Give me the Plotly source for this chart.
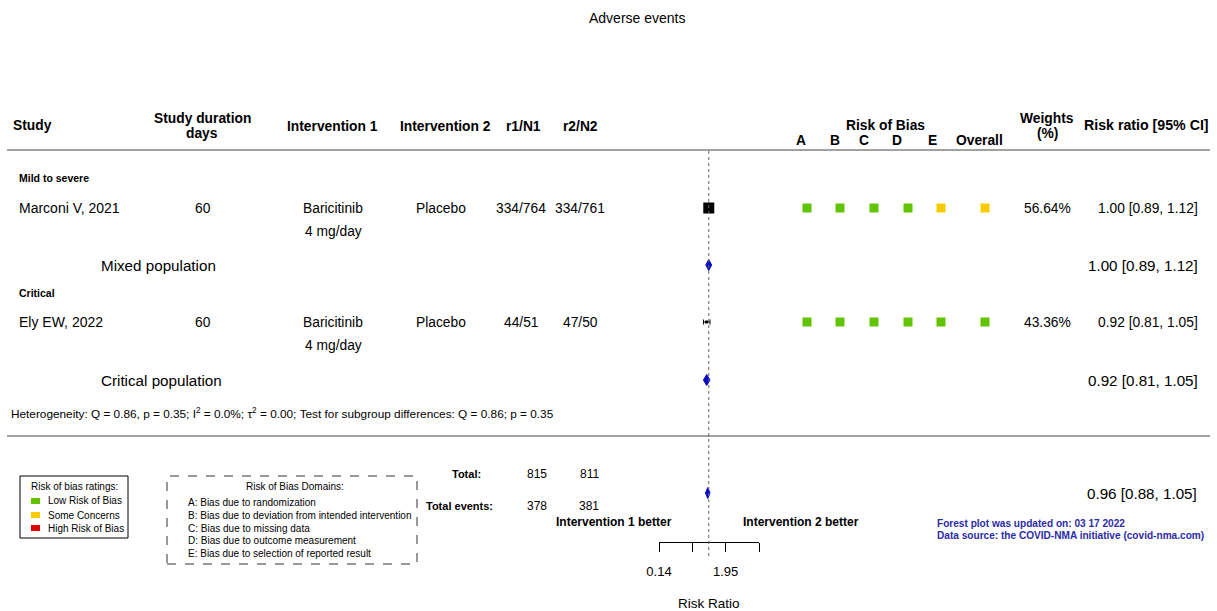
import plotly.graph_objects as go
import math

W, H = 1217, 611
FONT = "Liberation Sans, Arial, sans-serif"

# ---------------- data ----------------
title = "Adverse events"
subgroups = ["Mild to severe", "Critical"]
studies = ["Marconi V, 2021", "Ely EW, 2022"]
durations = ["60", "60"]
intervention1 = ["Baricitinib\n4 mg/day", "Baricitinib\n4 mg/day"]
intervention2 = ["Placebo", "Placebo"]
r1 = [334, 44]
n1 = [764, 51]
r2 = [334, 47]
n2 = [761, 50]
rr = [1.00, 0.92]
rr_lo = [0.89, 0.81]
rr_hi = [1.12, 1.05]
weights = [56.64, 43.36]
rob = [["L", "L", "L", "L", "S", "S"],
       ["L", "L", "L", "L", "L", "L"]]
rob_domains = ["A", "B", "C", "D", "E", "Overall"]

sub_names = ["Mixed population", "Critical population"]
sub_rr = [1.00, 0.92]
sub_lo = [0.89, 0.81]
sub_hi = [1.12, 1.05]

overall_rr, overall_lo, overall_hi = 0.96, 0.88, 1.05
total_n1, total_n2 = 815, 811
total_e1, total_e2 = 378, 381

hetero = ("Heterogeneity: Q = 0.86, p = 0.35; I<sup>2</sup> = 0.0%; "
          "τ<sup>2</sup> = 0.00; Test for subgroup differences: Q = 0.86; p = 0.35")

major_ticks = [0.14, 1.95]
minor_ticks = [0.52, 7.27]
axis_limits = [0.14, 7.27]

rob_ratings = ["Low Risk of Bias", "Some Concerns", "High Risk of Bias"]
rob_domain_text = ["A: Bias due to randomization",
                   "B: Bias due to deviation from intended intervention",
                   "C: Bias due to missing data",
                   "D: Bias due to outcome measurement",
                   "E: Bias due to selection of reported result"]

# ---------------- layout / style ----------------
ROB_COL = {"L": "#62c400", "S": "#f7cc00", "H": "#e00000"}
BLUE = "#0a0ac8"
NOTE_BLUE = "#2b2ba8"

sub_y = [178, 293]
study_y = [208, 322]
line2_dy = 23
summary_y = [265, 380]
overall_y = 493
rob_x = [807, 840, 874, 908, 941, 985]
axis_px = (659, 759)   # pixel span of forest axis
axis_bottom = 542

def px(x):
    return x / W

def py(y):
    return 1 - y / H

annotations = []

def txt(x, y, s, size=13, bold=False, anchor="center", color="black"):
    if bold:
        s = "<b>" + s + "</b>"
    annotations.append(dict(x=px(x), y=py(y), xref="paper", yref="paper",
                            text=s, showarrow=False, xanchor=anchor, yanchor="middle",
                            borderpad=0,
                            font=dict(family=FONT, size=size, color=color)))

fig = go.Figure()

# title
txt(637, 18, title, size=14)

# headers
HS = 13.8
txt(12, 125, "Study", HS, True, "left")
txt(202, 118, "Study duration", HS, True)
txt(202, 134, "days", HS, True)
txt(332, 126, "Intervention 1", HS, True)
txt(446, 126, "Intervention 2", HS, True)
txt(523, 126, "r1/N1", HS, True)
txt(580, 126, "r2/N2", HS, True)
txt(885, 125, "Risk of Bias", HS, True)
rob_lab_x = [801, 835, 864, 897, 932, 979]
for lx, d in zip(rob_lab_x, rob_domains):
    txt(lx, 140, d, HS, True)
txt(1047, 118, "Weights", HS, True)
txt(1047, 134, "(%)", HS, True)
txt(1210, 125, "Risk ratio [95% CI]", 14.2, True, "right")

# study rows
RS = 13.8
for i in range(len(studies)):
    y = study_y[i]
    txt(18, sub_y[i], subgroups[i], 10.5, True, "left")
    txt(18, y, studies[i], 14, False, "left")
    txt(203, y, durations[i], RS)
    parts = intervention1[i].split("\n")
    txt(333, y, parts[0], RS)
    txt(333, y + line2_dy, parts[1], RS)
    txt(441, y, intervention2[i], RS)
    txt(521, y, f"{r1[i]}/{n1[i]}", RS)
    txt(580, y, f"{r2[i]}/{n2[i]}", RS)
    txt(1047, y, f"{weights[i]:.2f}%", RS)
    txt(1199, y, f"{rr[i]:.2f} [{rr_lo[i]:.2f}, {rr_hi[i]:.2f}]", RS, False, "right")
    # summary row
    txt(100, summary_y[i], sub_names[i], 15.2, False, "left")
    txt(1199, summary_y[i], f"{sub_rr[i]:.2f} [{sub_lo[i]:.2f}, {sub_hi[i]:.2f}]", 15.2, False, "right")

txt(10, 413, hetero, 11.8, False, "left")

# totals
txt(467, 474, "Total:", 11, True)
txt(537, 474, str(total_n1), 12)
txt(589, 474, str(total_n2), 12)
txt(459, 506, "Total events:", 11, True)
txt(537, 506, str(total_e1), 12)
txt(589, 506, str(total_e2), 12)
txt(614, 522, "Intervention 1 better", 12, True)
txt(801, 522, "Intervention 2 better", 12, True)
txt(1198, 493, f"{overall_rr:.2f} [{overall_lo:.2f}, {overall_hi:.2f}]", 15.2, False, "right")
txt(709, 603, "Risk Ratio", 13.5)

txt(936, 523, "Forest plot was updated on: 03 17 2022", 10.1, True, "left", NOTE_BLUE)
txt(936, 535, "Data source: the COVID-NMA initiative (covid-nma.com)", 10.1, True, "left", NOTE_BLUE)

# legend boxes
shapes = []
shapes.append(dict(type="rect", xref="paper", yref="paper", x0=px(20), x1=px(128),
                   y0=py(538), y1=py(476), line=dict(color="black", width=1)))
txt(74, 486, "Risk of bias ratings:", 10)
leg_y = [501, 515, 528]
for yy, lab, k in zip(leg_y, rob_ratings, ["L", "S", "H"]):
    shapes.append(dict(type="rect", xref="paper", yref="paper", x0=px(31), x1=px(40),
                       y0=py(yy + 3), y1=py(yy - 3), line=dict(width=0),
                       fillcolor=ROB_COL[k]))
    txt(47, yy, lab, 10, False, "left")

shapes.append(dict(type="rect", xref="paper", yref="paper", x0=px(167), x1=px(417),
                   y0=py(564), y1=py(476), line=dict(color="#333", width=1, dash="dash")))
txt(295, 486, "Risk of Bias Domains:", 10)
for yy, lab in zip([502, 515, 528, 540, 553], rob_domain_text):
    txt(187, yy, lab, 10, False, "left")

# horizontal separators
for yy in [150, 436]:
    shapes.append(dict(type="line", xref="paper", yref="paper", x0=px(7), x1=px(1210),
                       y0=py(yy), y1=py(yy), line=dict(color="#444", width=1)))

# reference line at RR = 1
shapes.append(dict(type="line", xref="x", yref="paper", x0=1, x1=1,
                   y0=py(556), y1=py(150), line=dict(color="#666", width=1, dash="dot")))

# ---------------- forest marks (log axis) ----------------
fig.add_trace(go.Scatter(
    x=[rr[0]], y=[study_y[0]], mode="markers",
    marker=dict(symbol="square", size=11, color="black"),
    error_x=dict(type="data", symmetric=False, array=[rr_hi[0] - rr[0]],
                 arrayminus=[rr[0] - rr_lo[0]], color="black", thickness=1, width=2),
    xaxis="x", yaxis="y", showlegend=False, hoverinfo="skip"))
fig.add_trace(go.Scatter(
    x=[rr[1]], y=[study_y[1]], mode="markers",
    marker=dict(symbol="square", size=3, color="black"),
    error_x=dict(type="data", symmetric=False, array=[rr_hi[1] - rr[1]],
                 arrayminus=[rr[1] - rr_lo[1]], color="black", thickness=1, width=2.5),
    xaxis="x", yaxis="y", showlegend=False, hoverinfo="skip"))

dia_est = sub_rr + [overall_rr]
dia_lo = sub_lo + [overall_lo]
dia_hi = sub_hi + [overall_hi]
dia_y = summary_y + [overall_y]
for e, lo, hi, yy in zip(dia_est, dia_lo, dia_hi, dia_y):
    fig.add_trace(go.Scatter(
        x=[lo, e, hi, e, lo], y=[yy, yy - 5.5, yy, yy + 5.5, yy],
        mode="lines", fill="toself", fillcolor=BLUE,
        line=dict(color=BLUE, width=1), xaxis="x", yaxis="y",
        showlegend=False, hoverinfo="skip"))

rx, ry, rc = [], [], []
for i in range(len(studies)):
    for j, r in enumerate(rob[i]):
        rx.append(rob_x[j])
        ry.append(study_y[i])
        rc.append(ROB_COL[r])
fig.add_trace(go.Scatter(x=rx, y=ry, mode="markers",
                         marker=dict(symbol="square", size=9, color=rc),
                         xaxis="x2", yaxis="y2", showlegend=False, hoverinfo="skip"))

fig.update_layout(
    width=W, height=H, margin=dict(l=0, r=0, t=0, b=0, pad=0, autoexpand=False),
    paper_bgcolor="white", plot_bgcolor="rgba(0,0,0,0)",
    font=dict(family=FONT, color="black"),
    xaxis=dict(type="log", domain=[px(axis_px[0]), px(axis_px[1])],
               range=[math.log10(axis_limits[0]), math.log10(axis_limits[1])],
               tickvals=major_ticks, ticktext=[f"{t:.2f}" for t in major_ticks],
               showgrid=False, zeroline=False, showline=True, linecolor="black",
               linewidth=1, ticks="outside", ticklen=9, tickcolor="black",
               tickfont=dict(family=FONT, size=13), ticklabelstandoff=8,
               minor=dict(tickvals=minor_ticks, ticks="outside", ticklen=9,
                          tickcolor="black", showgrid=False),
               anchor="y", fixedrange=True, automargin=False),
    yaxis=dict(domain=[1 - axis_bottom / H, 1], range=[axis_bottom, 0],
               visible=False, anchor="x", fixedrange=True, automargin=False),
    xaxis2=dict(domain=[0, 1], range=[0, W], visible=False, anchor="y2",
                fixedrange=True, automargin=False),
    yaxis2=dict(domain=[0, 1], range=[H, 0], visible=False, anchor="x2",
                fixedrange=True, automargin=False),
    shapes=shapes, annotations=annotations,
)

fig.write_html("out.html", config={"displayModeBar": False},
               post_script="document.body.style.margin='0px';")
